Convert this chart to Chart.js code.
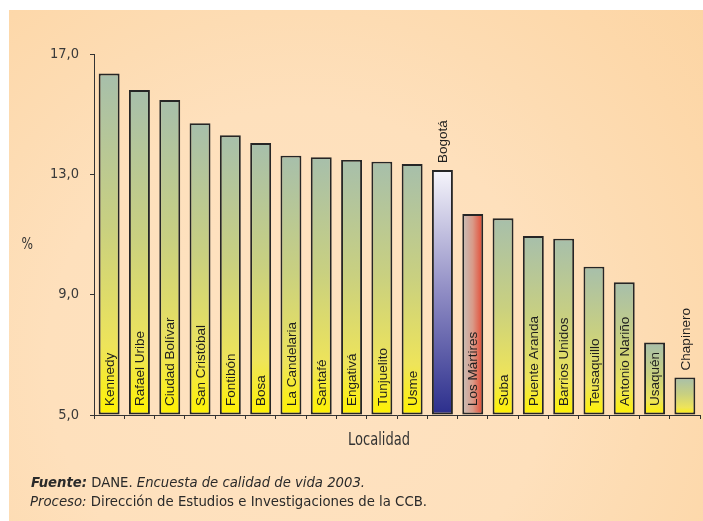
<!DOCTYPE html>
<html>
<head>
<meta charset="utf-8">
<script src="https://cdn.jsdelivr.net/npm/chart.js@4"></script>
<style>
html,body{margin:0;padding:0;background:#fff;}
#wrap{width:703px;height:521px;position:relative;}
</style>
</head>
<body>
<div id="wrap"><canvas id="c" width="703" height="521"></canvas></div>
<script>
const categories = ["Kennedy","Rafael Uribe","Ciudad Bolívar","San Cristóbal","Fontibón","Bosa","La Candelaria","Santafé","Engativá","Tunjuelito","Usme","Bogotá","Los Mártires","Suba","Puente Aranda","Barrios Unidos","Teusaquillo","Antonio Nariño","Usaquén","Chapinero"];
const values = [16.35,15.8,15.47,14.7,14.3,14.04,13.62,13.57,13.48,13.42,13.34,13.14,11.68,11.54,10.95,10.86,9.93,9.41,7.41,6.25];
const labelsAbove = ["Bogotá","Chapinero"];
const yTicks = [5,9,13,17];
const yTitle = "%";
const xTitle = "Localidad";
const sourceBold = "Fuente:";
const sourceRest1 = " DANE. ";
const sourceItalic1 = "Encuesta de calidad de vida 2003.";
const procesoItalic = "Proceso:";
const procesoRest = " Dirección de Estudios e Investigaciones de la CCB.";

const NARROW = "'Liberation Sans Narrow','DejaVu Sans Condensed',sans-serif";
const SANS = "'Liberation Sans',Arial,sans-serif";

function barFill(ctx){
  const chart = ctx.chart;
  const area = chart.chartArea;
  if(!area) return '#d8d870';
  const i = ctx.dataIndex;
  const y = chart.scales.y, x = chart.scales.x;
  const top = y.getPixelForValue(values[i]);
  const base = y.getPixelForValue(yTicks[0]);
  const c = chart.ctx;
  const name = categories[i];
  if(name === "Bogotá"){
    const g = c.createLinearGradient(0, top, 0, base);
    g.addColorStop(0, '#f6f5fb');
    g.addColorStop(0.5, '#8f8cc4');
    g.addColorStop(1, '#2b2e8c');
    return g;
  }
  if(name === "Los Mártires"){
    const cx = x.getPixelForValue(i);
    const g = c.createLinearGradient(cx-11, 0, cx+11, 0);
    g.addColorStop(0, '#c7c2bd');
    g.addColorStop(0.5, '#d99a88');
    g.addColorStop(1, '#e5402a');
    return g;
  }
  const g = c.createLinearGradient(0, top, 0, base);
  g.addColorStop(0, '#a7bfab');
  g.addColorStop(0.45, '#c9d080');
  g.addColorStop(0.8, '#eee45a');
  g.addColorStop(1, '#fff200');
  return g;
}

const bgPlugin = {
  id:'bg',
  beforeDraw(chart){
    const c = chart.ctx;
    c.save();
    c.fillStyle = '#ffffff';
    c.fillRect(0,0,chart.width,chart.height);
    const g = c.createRadialGradient(300, 360, 0, 300, 360, 560);
    g.addColorStop(0, '#fee2c1');
    g.addColorStop(0.45, '#fee0bc');
    g.addColorStop(0.62, '#fddcb3');
    g.addColorStop(0.8, '#fdd8aa');
    g.addColorStop(1, '#fcd4a2');
    c.fillStyle = g;
    c.fillRect(9,10,chart.width-9,chart.height-10);
    c.restore();
  }
};

function fitText(c, text, x, y, w){
  const m = c.measureText(text).width;
  const s = w / m;
  c.save();
  c.translate(x, y);
  c.scale(s, 1);
  c.fillText(text, 0, 0);
  c.restore();
  return w;
}

const textPlugin = {
  id:'texts',
  afterDatasetsDraw(chart){
    const c = chart.ctx;
    const meta = chart.getDatasetMeta(0);
    const base = chart.scales.y.getPixelForValue(yTicks[0]);
    c.save();
    c.fillStyle = '#1e1e1e';
    c.font = '13.5px ' + SANS;
    c.textBaseline = 'middle';
    meta.data.forEach((bar, i) => {
      const name = chart.data.labels[i];
      c.save();
      if(labelsAbove.includes(name)){
        c.translate(bar.x + 1, bar.y - 7);
      } else {
        c.translate(bar.x + 1, base - 9);
      }
      c.rotate(-Math.PI/2);
      c.textAlign = 'left';
      c.fillText(name, 0, 0);
      c.restore();
    });
    // axis titles
    c.fillStyle = '#333';
    c.textAlign = 'left';
    c.textBaseline = 'alphabetic';
    c.font = '16px ' + NARROW;
    fitText(c, yTitle, 21.5, 249, 11.5);
    c.font = '18px ' + NARROW;
    fitText(c, xTitle, 348, 444.5, 62);
    // source lines
    c.fillStyle = '#2a2a2a';
    const f = '14.5px ' + NARROW;
    const parts1 = [['italic bold '+f, sourceBold],['' + f, sourceRest1],['italic '+f, sourceItalic1]];
    const parts2 = [['italic '+f, procesoItalic],['' + f, procesoRest]];
    function line(parts, x0, y0, target){
      let tot = 0;
      parts.forEach(p=>{ c.font = p[0]; tot += c.measureText(p[1]).width; });
      const s = target / tot;
      c.save();
      c.translate(x0, y0);
      c.scale(s, 1);
      let xx = 0;
      parts.forEach(p=>{ c.font = p[0]; c.fillText(p[1], xx, 0); xx += c.measureText(p[1]).width; });
      c.restore();
    }
    line(parts1, 31, 486.5, 334);
    line(parts2, 30, 506, 397);
    c.restore();
  }
};

new Chart(document.getElementById('c'), {
  type:'bar',
  data:{
    labels: categories,
    datasets:[{
      data: values,
      base: yTicks[0],
      backgroundColor: barFill,
      borderColor: '#262626',
      borderWidth: 1.9,
      borderSkipped: false,
      categoryPercentage: 1,
      barPercentage: 0.69
    }]
  },
  options:{
    responsive:false,
    animation:false,
    devicePixelRatio:1,
    layout:{padding:{left:0,right:3,top:54,bottom:102}},
    plugins:{legend:{display:false},tooltip:{enabled:false}},
    scales:{
      x:{
        ticks:{display:false},
        grid:{drawOnChartArea:false,drawTicks:true,tickLength:4,color:'#333'},
        border:{color:'#333',width:1}
      },
      y:{
        min:yTicks[0], max:yTicks[yTicks.length-1],
        afterBuildTicks(scale){ scale.ticks = yTicks.map(v=>({value:v})); },
        afterFit(scale){ scale.width = 94; },
        ticks:{
          padding:11,
          color:'#3a3a3a',
          font:{family:NARROW,size:14.5},
          callback:(v)=>Number(v).toFixed(1).replace('.',',')
        },
        grid:{drawOnChartArea:false,drawTicks:true,tickLength:4,color:'#333'},
        border:{color:'#333',width:1}
      }
    }
  },
  plugins:[bgPlugin,textPlugin]
});
</script>
</body>
</html>
